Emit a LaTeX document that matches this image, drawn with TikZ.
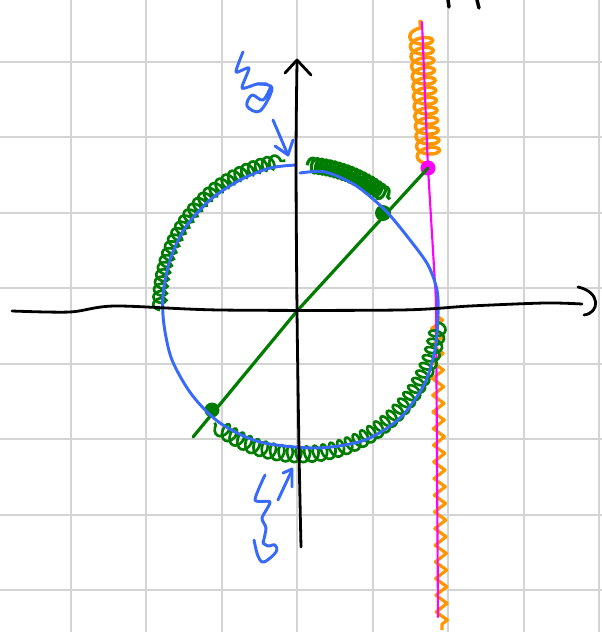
\documentclass[tikz,border=0pt]{standalone}
\usetikzlibrary{decorations.pathmorphing}
\definecolor{gridgray}{RGB}{212,212,212}
\definecolor{penblue}{RGB}{55,105,250}
\definecolor{pengreen}{RGB}{0,125,0}
\definecolor{penorange}{RGB}{255,152,0}
\definecolor{penmag}{RGB}{255,0,255}
\tikzset{
  gridline/.style={gridgray, line width=1.4pt},
  axisline/.style={black, line width=2.1pt, line cap=round, line join=round},
  bluepen/.style={penblue, line width=2.2pt, line cap=round, line join=round},
  greenpen/.style={pengreen, line width=2.4pt, line cap=round},
  greencoil/.style={pengreen, line width=2pt, decorate, decoration={coil, amplitude=5pt, segment length=5.5pt, aspect=0.6}},
  orangecoil/.style={penorange, line width=2.6pt, decorate, decoration={coil, amplitude=8.5pt, segment length=7.5pt, aspect=0.5}},
  orangezig/.style={penorange, line width=2.4pt, line join=round, decorate, decoration={zigzag, amplitude=4.2pt, segment length=12.5pt}},
  magpen/.style={penmag, line width=1.6pt, line cap=round},
}
\begin{document}
\begin{tikzpicture}[x=0.75pt,y=-0.75pt]
\useasboundingbox (0,0) rectangle (602,632);
% grid
\foreach \k in {0,...,7}{
  \draw[gridline] ({70.7+75.5*\k},0) -- ({70.7+75.5*\k},632);
  \draw[gridline] (0,{61.7+75.5*\k}) -- (602,{61.7+75.5*\k});
}
% orange coil (top) and zigzag (bottom)
\coordinate (mtop) at (422,22);
\coordinate (mdot) at (428,168);
\coordinate (maxis) at (436,300);
\coordinate (mbot) at (438,617);
\draw[orangecoil] (429,164) -- (420,20);
\draw[orangezig] (437,316) -- (442,630);
% magenta line
\draw[magpen] (mtop) -- (mdot) -- (maxis) -- (mbot);
\fill[penmag] (mdot) circle[radius=7.5];
% green coils (arcs of an ellipse centred at (300,305))
\draw[greencoil] (300,305) ++(178:140 and 145) arc[start angle=178, end angle=264, x radius=140, y radius=145];
\draw[greencoil, line width=2.4pt, decoration={coil, amplitude=5.5pt, segment length=3.2pt, aspect=0.6}] (300,305) ++(273:137 and 140) arc[start angle=273, end angle=311, x radius=137, y radius=140];
\draw[greencoil, decoration={coil, amplitude=6pt, segment length=6.5pt, aspect=0.6}] (300,307) ++(6:139 and 147) arc[start angle=6, end angle=128, x radius=139, y radius=147];
% green line
\coordinate (o) at (297,311);
\draw[greenpen] (193,437) -- (o) -- (mdot);
\fill[pengreen] (383,213) circle[radius=8];
\fill[pengreen] (212,410) circle[radius=7.5];
% blue circle
\draw[bluepen] plot[smooth] coordinates {(296,165) (270,168) (240,180) (210,200) (185,228) (170,260) (163,295) (164,325) (172,360) (192,395) (220,423) (260,442) (317,448) (365,440) (400,418) (424,385) (435,350) (438,315) (437,290) (428,265) (410,240) (385,210) (355,185) (325,172) (300,173)};
% axes
\draw[axisline] plot[smooth] coordinates {(12,311) (70,312) (115,306) (220,310) (400,310) (470,306) (545,303) (582,304)};
\draw[axisline] (578,287) .. controls (601,292) and (600,313) .. (584,315);
\draw[axisline] plot[smooth] coordinates {(301,547) (299,450) (297,310) (296,160) (297,62)};
\draw[axisline] (285,73) -- (297,60) -- (311,75);
% cut-off strokes at top
\draw[axisline, line width=2.6pt] (448,0) -- (449,7);
\draw[axisline, line width=2.6pt] (477,0) -- (479,8);
% blue handwriting top
\draw[bluepen] plot[smooth, tension=0.4] coordinates {(243,52) (236,72) (249,68) (242,88) (257,84) (267,84)};
\draw[bluepen] plot[smooth, tension=0.6] coordinates {(257,84) (272,88) (260,111) (247,106) (252,95) (263,100) (271,86)};
\draw[bluepen] (273,120) -- (288,155);
\draw[bluepen] (275,146) -- (288,155) -- (293,140);
% blue handwriting bottom
\draw[bluepen] plot[smooth, tension=0.4] coordinates {(265,475) (255,500) (270,502) (262,518) (266,528) (263,543)};
\draw[bluepen] plot[smooth, tension=0.6] coordinates {(254,540) (258,556) (264,562) (276,552) (275,545) (268,546) (263,543)};
\draw[bluepen] (278,500) -- (292,470);
\draw[bluepen] (283,473) -- (292,469) -- (292,487);
\end{tikzpicture}
\end{document}
